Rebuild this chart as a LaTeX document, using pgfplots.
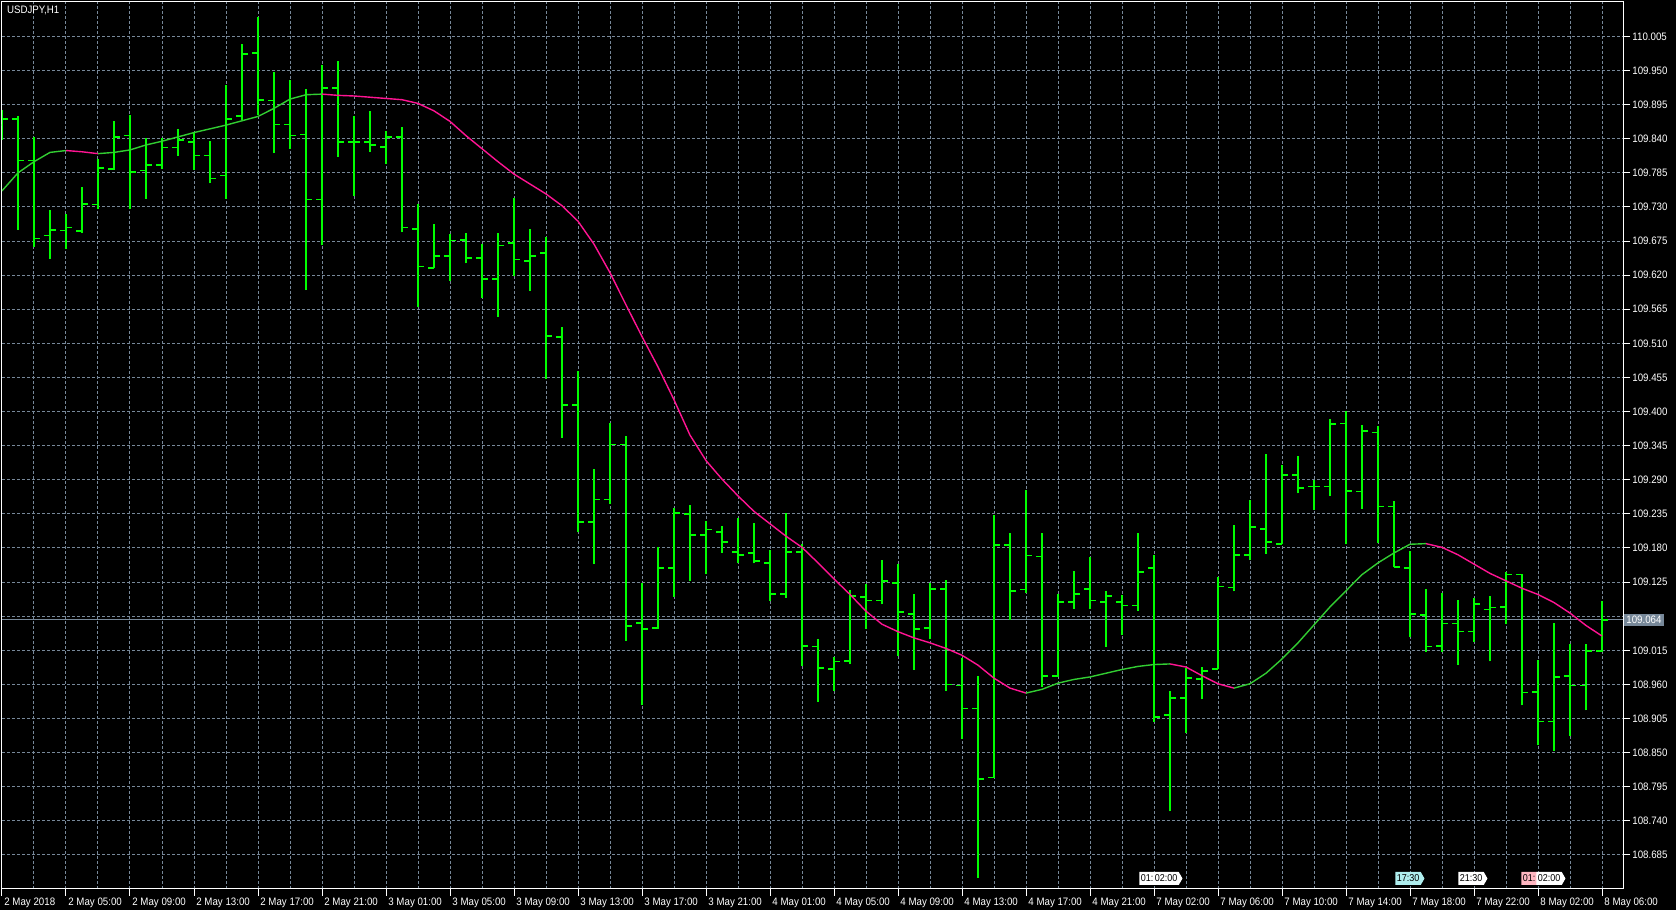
\documentclass[border=0pt]{standalone}
\usepackage{fontspec}
\setmainfont{Liberation Sans}
\usepackage{pgfplots}
\pgfplotsset{compat=1.18}
\usepackage{pgfplotstable}
\usetikzlibrary{shapes.symbols}
\newfontfamily\mtfont[FakeStretch=0.9]{Liberation Sans}
\definecolor{barcol}{RGB}{0,255,0}
\definecolor{upcol}{RGB}{50,205,50}
\definecolor{dncol}{RGB}{255,20,147}
\definecolor{gridcol}{RGB}{119,136,153}
\definecolor{evcyan}{RGB}{175,238,238}
\definecolor{evpink}{RGB}{255,182,193}

% USDJPY H1 bars: index, open, high, low, close
\pgfplotstableread{
i o h l c
0 109.862 109.886 109.838 109.872
1 109.872 109.876 109.693 109.805
2 109.805 109.843 109.666 109.679
3 109.684 109.725 109.646 109.693
4 109.692 109.719 109.662 109.697
5 109.691 109.762 109.688 109.735
6 109.734 109.807 109.726 109.793
7 109.791 109.869 109.790 109.843
8 109.845 109.878 109.726 109.786
9 109.789 109.842 109.743 109.798
10 109.798 109.841 109.792 109.826
11 109.826 109.856 109.813 109.838
12 109.835 109.850 109.790 109.813
13 109.813 109.836 109.768 109.776
14 109.781 109.927 109.743 109.872
15 109.877 109.993 109.870 109.977
16 109.978 110.037 109.878 109.903
17 109.902 109.948 109.817 109.863
18 109.863 109.934 109.824 109.845
19 109.847 109.921 109.596 109.742
20 109.742 109.959 109.668 109.922
21 109.922 109.965 109.811 109.835
22 109.835 109.876 109.747 109.835
23 109.835 109.885 109.819 109.830
24 109.827 109.853 109.800 109.843
25 109.843 109.859 109.689 109.697
26 109.694 109.735 109.568 109.634
27 109.632 109.703 109.631 109.651
28 109.651 109.686 109.611 109.676
29 109.677 109.688 109.639 109.648
30 109.648 109.670 109.583 109.614
31 109.614 109.688 109.553 109.668
32 109.672 109.744 109.618 109.645
33 109.643 109.694 109.595 109.651
34 109.656 109.682 109.452 109.522
35 109.520 109.536 109.358 109.411
36 109.411 109.465 109.205 109.222
37 109.222 109.307 109.154 109.258
38 109.258 109.381 109.251 109.347
39 109.347 109.360 109.030 109.054
40 109.059 109.123 108.927 109.049
41 109.051 109.181 109.050 109.148
42 109.148 109.245 109.101 109.236
43 109.235 109.249 109.127 109.201
44 109.201 109.224 109.138 109.210
45 109.206 109.216 109.172 109.190
46 109.174 109.228 109.155 109.169
47 109.172 109.220 109.155 109.159
48 109.156 109.177 109.095 109.106
49 109.106 109.236 109.100 109.174
50 109.174 109.186 108.990 109.022
51 109.021 109.034 108.932 108.986
52 108.985 109.004 108.950 108.997
53 108.998 109.112 108.993 109.103
54 109.101 109.122 109.049 109.095
55 109.095 109.161 109.089 109.127
56 109.124 109.154 109.006 109.077
57 109.074 109.106 108.984 109.049
58 109.051 109.123 109.033 109.114
59 109.114 109.128 108.950 108.960
60 108.958 109.003 108.872 108.921
61 108.921 108.973 108.648 108.807
62 108.810 109.233 108.809 109.185
63 109.185 109.204 109.064 109.111
64 109.113 109.274 109.107 109.168
65 109.166 109.204 108.956 108.974
66 108.974 109.106 108.972 109.093
67 109.093 109.143 109.082 109.106
68 109.114 109.165 109.081 109.095
69 109.093 109.110 109.020 109.103
70 109.093 109.104 109.040 109.087
71 109.087 109.204 109.079 109.141
72 109.148 109.169 108.900 108.907
73 108.911 108.949 108.755 108.938
74 108.938 108.986 108.882 108.970
75 108.969 108.988 108.936 108.982
76 108.985 109.133 108.985 109.118
77 109.116 109.217 109.110 109.169
78 109.169 109.257 109.161 109.214
79 109.211 109.332 109.171 109.190
80 109.186 109.314 109.186 109.298
81 109.298 109.328 109.268 109.277
82 109.279 109.290 109.242 109.279
83 109.279 109.388 109.264 109.380
84 109.381 109.401 109.186 109.272
85 109.271 109.378 109.243 109.369
86 109.366 109.377 109.188 109.247
87 109.247 109.256 109.149 109.149
88 109.148 109.175 109.036 109.074
89 109.072 109.114 109.013 109.021
90 109.022 109.107 109.013 109.058
91 109.058 109.096 108.992 109.045
92 109.045 109.100 109.029 109.090
93 109.081 109.103 108.997 109.084
94 109.085 109.141 109.058 109.137
95 109.137 109.138 108.926 108.947
96 108.948 108.999 108.862 108.900
97 108.900 109.059 108.853 108.972
98 108.974 109.025 108.877 108.958
99 108.958 109.025 108.918 109.014
100 109.014 109.095 109.013 109.064
}\bars

% moving average
\pgfplotstableread{
i ma
0 109.756
1 109.785
2 109.803
3 109.818
4 109.821
5 109.819
6 109.816
7 109.818
8 109.822
9 109.830
10 109.836
11 109.843
12 109.850
13 109.856
14 109.862
15 109.869
16 109.876
17 109.889
18 109.904
19 109.911
20 109.912
21 109.910
22 109.909
23 109.907
24 109.905
25 109.903
26 109.897
27 109.885
28 109.868
29 109.845
30 109.824
31 109.803
32 109.783
33 109.767
34 109.751
35 109.732
36 109.707
37 109.670
38 109.624
39 109.572
40 109.521
41 109.472
42 109.419
43 109.362
44 109.321
45 109.291
46 109.264
47 109.239
48 109.219
49 109.199
50 109.181
51 109.156
52 109.130
53 109.105
54 109.078
55 109.057
56 109.045
57 109.035
58 109.027
59 109.018
60 109.007
61 108.991
62 108.970
63 108.954
64 108.946
65 108.952
66 108.962
67 108.968
68 108.972
69 108.978
70 108.984
71 108.989
72 108.992
73 108.993
74 108.988
75 108.974
76 108.961
77 108.954
78 108.961
79 108.978
80 109.001
81 109.027
82 109.056
83 109.085
84 109.111
85 109.137
86 109.156
87 109.172
88 109.186
89 109.187
90 109.181
91 109.169
92 109.154
93 109.139
94 109.127
95 109.115
96 109.105
97 109.092
98 109.075
99 109.055
100 109.038
}\ma

\tikzset{
  evt/.style={signal, signal to=east, signal pointer angle=120, draw=none,
    text=black, font=\mtfont\fontsize{5}{5}\selectfont, inner xsep=0.7pt,
    inner ysep=0.5pt, minimum height=6.5pt, anchor=west},
}
\pgfplotsset{
  ohlc/.style={draw=none, mark=none, forget plot},
  obar/.style={draw=barcol, line width=0.8pt, solid},
  maline/.style={line width=0.7pt, mark=none, forget plot},
}

\begin{document}
\begin{tikzpicture}
\fill[black] (0pt,0pt) rectangle (838pt,455pt);
\useasboundingbox (0pt,0pt) rectangle (838pt,455pt);
\begin{axis}[
  at={(1pt,10.5pt)}, anchor=south west,
  scale only axis, width=810.5pt, height=443.5pt,
  xmin=0, xmax=101.3125, ymin=108.630, ymax=110.0606,
  axis background/.style={fill=black},
  axis line style={white, line width=0.5pt},
  xtick={0,4,...,100},
  minor xtick={2,6,...,98},
  xticklabels={2 May 2018, 2 May 05:00, 2 May 09:00, 2 May 13:00, 2 May 17:00, 2 May 21:00,
    3 May 01:00, 3 May 05:00, 3 May 09:00, 3 May 13:00, 3 May 17:00, 3 May 21:00,
    4 May 01:00, 4 May 05:00, 4 May 09:00, 4 May 13:00, 4 May 17:00, 4 May 21:00,
    7 May 02:00, 7 May 06:00, 7 May 10:00, 7 May 14:00, 7 May 18:00, 7 May 22:00,
    8 May 02:00, 8 May 06:00},
  ytick={108.685,108.740,108.795,108.850,108.905,108.960,109.015,109.070,109.125,
    109.180,109.235,109.290,109.345,109.400,109.455,109.510,109.565,109.620,109.675,
    109.730,109.785,109.840,109.895,109.950,110.005},
  % 109.070 sits behind the current-price box
  yticklabels={108.685,108.740,108.795,108.850,108.905,108.960,109.015,{},109.125,
    109.180,109.235,109.290,109.345,109.400,109.455,109.510,109.565,109.620,109.675,
    109.730,109.785,109.840,109.895,109.950,110.005},
  xtick pos=left, ytick pos=right, yticklabel pos=right,
  tick align=outside,
  major tick length=3.5pt, minor tick length=0pt,
  tick style={white, line width=0.5pt},
  grid=both,
  major grid style={gridcol, line width=0.5pt, dash pattern=on 1.5pt off 1pt},
  minor grid style={gridcol, line width=0.5pt, dash pattern=on 1.5pt off 1pt},
  ticklabel style={font=\mtfont\fontsize{5.4}{6}\selectfont, text=white, inner sep=0pt},
  xticklabel style={anchor=north west, xshift=1pt, yshift=-1pt},
  yticklabel style={anchor=west, xshift=1pt},
  /pgf/number format/assume math mode=true,
]
% bid line
\addplot[gridcol, line width=0.5pt, forget plot] coordinates {(0,109.064) (101.3125,109.064)};
% high-low ranges
\addplot[ohlc, error bars/.cd, y dir=plus, y explicit, error mark=none,
  error bar style={obar}]
  table[x=i, y=l, y error expr=\thisrow{h}-\thisrow{l}] {\bars};
% open ticks
\addplot[ohlc, error bars/.cd, x dir=minus, x fixed=0.35, error mark=none,
  error bar style={obar}]
  table[x=i, y=o] {\bars};
% close ticks
\addplot[ohlc, error bars/.cd, x dir=plus, x fixed=0.35, error mark=none,
  error bar style={obar}]
  table[x=i, y=c] {\bars};
% moving average, green rising / pink falling
\addplot[maline, upcol, restrict x to domain=0:4] table[x=i, y=ma] {\ma};
\addplot[maline, dncol, restrict x to domain=4:6] table[x=i, y=ma] {\ma};
\addplot[maline, upcol, restrict x to domain=6:20] table[x=i, y=ma] {\ma};
\addplot[maline, dncol, restrict x to domain=20:64] table[x=i, y=ma] {\ma};
\addplot[maline, upcol, restrict x to domain=64:73] table[x=i, y=ma] {\ma};
\addplot[maline, dncol, restrict x to domain=73:77] table[x=i, y=ma] {\ma};
\addplot[maline, upcol, restrict x to domain=77:89] table[x=i, y=ma] {\ma};
\addplot[maline, dncol, restrict x to domain=89:100] table[x=i, y=ma] {\ma};
\coordinate (bid) at (axis cs:101.3125,109.064);
\end{axis}

% symbol and price box
\node[anchor=north west, inner sep=0pt, text=white, font=\mtfont\fontsize{5.4}{6}\selectfont]
  at (3.3pt,452pt) {USDJPY,H1};
\node[anchor=west, fill=gridcol, text=white, inner xsep=1pt, inner ysep=0pt,
  minimum height=6pt, font=\mtfont\fontsize{5.4}{6}\selectfont]
  at ([xshift=0.5pt]bid) {109.064};

% calendar event markers
\node[evt, fill=white] at (569.5pt,15.75pt) {01:};
\node[evt, fill=white] at (576.5pt,15.75pt) {02:00};
\node[evt, fill=evcyan] at (697.5pt,15.75pt) {17:30};
\node[evt, fill=white] at (729pt,15.75pt) {21:30};
\node[evt, fill=evpink] at (760.5pt,15.75pt) {01:};
\node[evt, fill=white] at (768pt,15.75pt) {02:00};
\end{tikzpicture}
\end{document}
